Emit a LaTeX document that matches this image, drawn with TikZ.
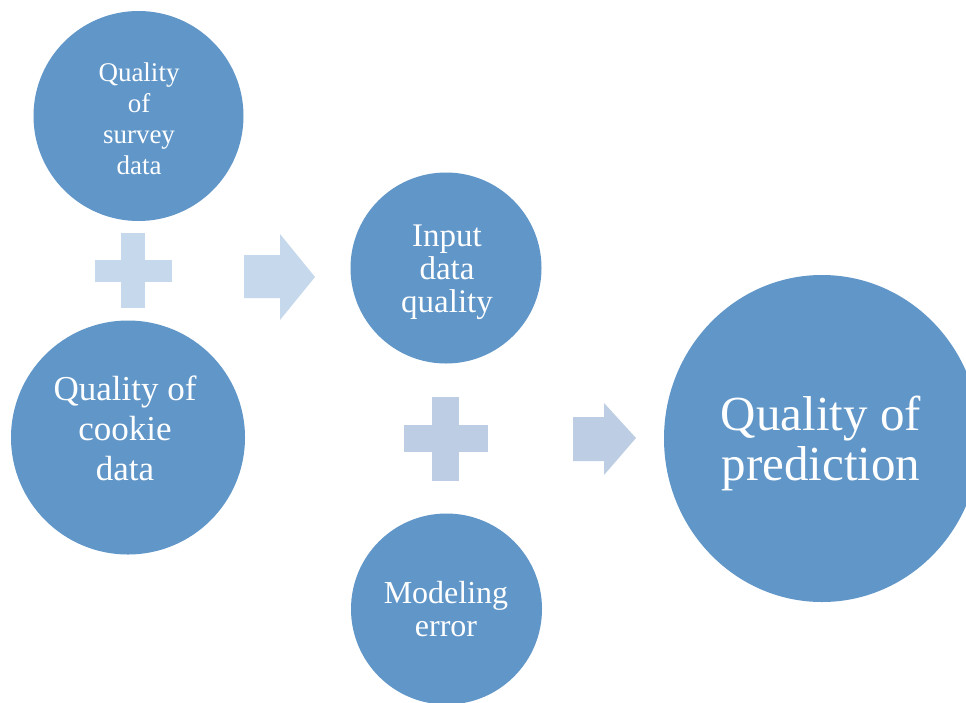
\documentclass[tikz,border=0pt]{standalone}
\usepackage{fontspec}
\setmainfont{Liberation Serif}
\usetikzlibrary{shapes.geometric}
\definecolor{bubble}{RGB}{96,150,200}
\definecolor{plusA}{RGB}{197,216,236}
\definecolor{plusB}{RGB}{189,205,227}
\tikzset{
  bubble/.style={circle, fill=bubble, draw=none, inner sep=0pt, minimum size=#1},
  caption/.style={text=white, align=center, inner sep=0pt},
}
\begin{document}
\begin{tikzpicture}[x=1pt, y=-1pt]
  \fill[white] (0,0) rectangle (966,702);
  \useasboundingbox (0,0) rectangle (966,702);
  \clip (0,0) rectangle (966,702);

  % inputs on the left
  \node[bubble=210pt] (survey) at (138.5,116) {};
  \node[bubble=234pt] (cookie) at (128,437.5) {};
  % middle column
  \node[bubble=191pt] (input) at (446,268) {};
  \node[bubble=191pt] (model) at (446.5,609) {};
  % result
  \node[ellipse, fill=bubble, inner sep=0pt, minimum width=316pt, minimum height=327pt] (pred) at (822,438.5) {};

  % captions
  \node[caption, font=\fontsize{27}{31}\selectfont] (tsurvey) at (139,118.5) {Quality\\of\\survey\\data};
  \node[caption, font=\fontsize{35}{40}\selectfont] (tcookie) at (125,428) {Quality of\\cookie\\data};
  \node[caption, font=\fontsize{33}{33}\selectfont] (tinput) at (447,272) {Input\\data\\quality};
  \node[caption, font=\fontsize{32}{33}\selectfont] (tmodel) at (446,609.5) {Modeling\\error};
  \node[caption, font=\fontsize{49}{50}\selectfont] (tpred) at (821,443.5) {Quality of\\prediction};

  % plus signs
  \fill[plusA] (121,233) rectangle (145,308);
  \fill[plusA] (95,260) rectangle (172,282);
  \fill[plusB] (432,397) rectangle (459,481);
  \fill[plusB] (404,425) rectangle (488,452);

  % block arrows
  \fill[plusA] (244,255) -- (280,255) -- (280,234) -- (315,277) -- (280,320) -- (280,298) -- (244,298) -- cycle;
  \fill[plusB] (573,417) -- (604,417) -- (604,403) -- (636,438) -- (604,475) -- (604,461) -- (573,461) -- cycle;
\end{tikzpicture}
\end{document}
